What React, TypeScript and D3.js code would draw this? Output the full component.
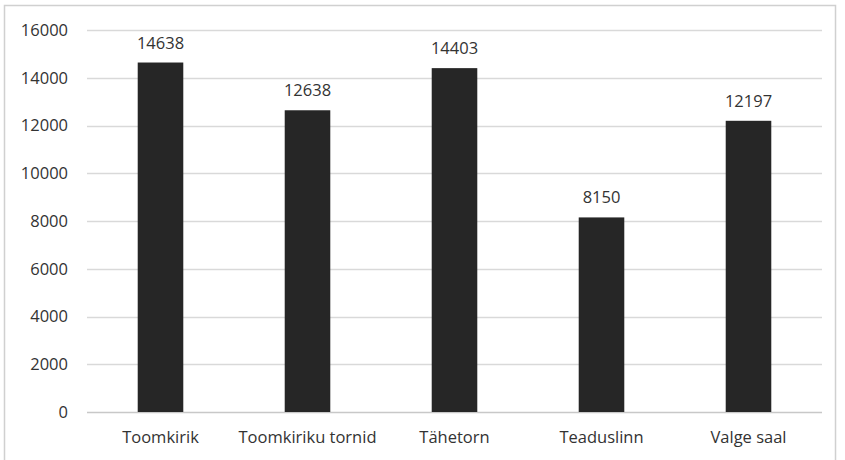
import { axisLeft, scaleBand, scaleLinear, select } from 'd3'
import { useEffect, useRef } from 'react'

const categories = ['Toomkirik', 'Toomkiriku tornid', 'Tähetorn', 'Teaduslinn', 'Valge saal']
const visitors = [14638, 12638, 14403, 8150, 12197]
const yTicks = [0, 2000, 4000, 6000, 8000, 10000, 12000, 14000, 16000]

export default function App() {
  const ref = useRef<SVGSVGElement>(null)

  useEffect(() => {
    if (!ref.current) return
    const svg = select(ref.current)
    svg.selectAll('*').remove()

    const margin = { top: 30, left: 87, right: 23, bottom: 48 }
    const width = 845 - margin.left - margin.right
    const height = 460 - margin.top - margin.bottom
    const font = '"Open Sans", Lato, sans-serif'
    const textColor = '#333333'
    const fontSize = 16.5

    // outer frame
    svg
      .append('rect')
      .attr('x', 4.5)
      .attr('y', 5.5)
      .attr('width', 831)
      .attr('height', 460)
      .attr('fill', 'white')
      .attr('stroke', '#d0d0d0')
      .attr('stroke-width', 1.5)

    const g = svg.append('g').attr('transform', `translate(${margin.left}, ${margin.top})`)

    const x = scaleBand().domain(categories).range([0, width]).paddingInner(0.69).paddingOuter(0.345)
    const y = scaleLinear().domain([0, 16000]).range([height, 0])

    // grid
    g.append('g')
      .selectAll('line')
      .data(yTicks)
      .join('line')
      .attr('x1', 0)
      .attr('x2', width)
      .attr('y1', (d) => Math.round(y(d)) + 0.5)
      .attr('y2', (d) => Math.round(y(d)) + 0.5)
      .attr('stroke', (d) => (d === 0 ? '#c8c8c8' : '#d9d9d9'))
      .attr('stroke-width', 1.5)

    // y axis labels
    const yAxis = g
      .append('g')
      .call(axisLeft(y).tickValues(yTicks).tickSize(0).tickPadding(19).tickFormat((d) => String(d)))
    yAxis.select('.domain').remove()
    yAxis.selectAll('text').attr('font-family', font).attr('font-size', fontSize).attr('fill', textColor)

    // bars
    g.append('g')
      .selectAll('rect')
      .data(visitors)
      .join('rect')
      .attr('x', (_, i) => x(categories[i]) ?? 0)
      .attr('y', (d) => y(d))
      .attr('width', x.bandwidth())
      .attr('height', (d) => height - y(d))
      .attr('fill', '#262626')

    // value labels
    g.append('g')
      .selectAll('text')
      .data(visitors)
      .join('text')
      .attr('x', (_, i) => (x(categories[i]) ?? 0) + x.bandwidth() / 2)
      .attr('y', (d) => y(d) - 14)
      .attr('text-anchor', 'middle')
      .attr('font-family', font)
      .attr('font-size', fontSize)
      .attr('fill', textColor)
      .text((d) => String(d))

    // category labels
    g.append('g')
      .selectAll('text')
      .data(categories)
      .join('text')
      .attr('x', (d) => (x(d) ?? 0) + x.bandwidth() / 2)
      .attr('y', height + 31)
      .attr('text-anchor', 'middle')
      .attr('font-family', font)
      .attr('font-size', fontSize)
      .attr('fill', textColor)
      .text((d) => d)
  }, [])

  return (
    <svg
      ref={ref}
      width={845}
      height={460}
      style={{ position: 'absolute', left: 0, top: 0, display: 'block' }}
    />
  )
}
